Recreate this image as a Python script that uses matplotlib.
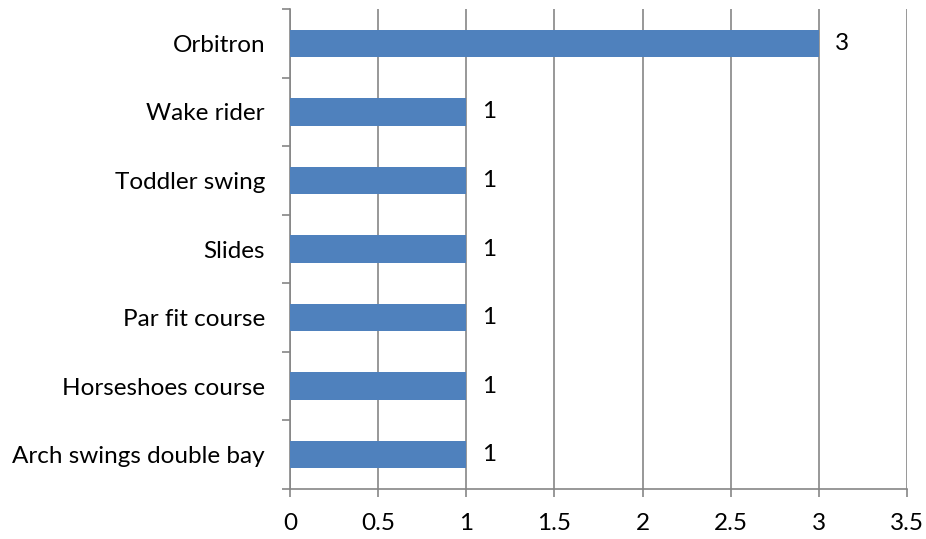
import matplotlib
matplotlib.use('Agg')
import matplotlib.pyplot as plt
from matplotlib.ticker import FixedLocator

categories = ['Arch swings double bay', 'Horseshoes course', 'Par fit course',
              'Slides', 'Toddler swing', 'Wake rider', 'Orbitron']
values = [1, 1, 1, 1, 1, 1, 3]
xticks = [0, 0.5, 1, 1.5, 2, 2.5, 3, 3.5]
xticklabels = ['0', '0.5', '1', '1.5', '2', '2.5', '3', '3.5']

plt.rcParams['font.family'] = ['Lato', 'DejaVu Sans']
plt.rcParams['font.size'] = 17.5

fig = plt.figure(figsize=(9.26, 5.39), dpi=100)
ax = fig.add_axes([290/926, 1-489/539, (907-290)/926, 480/539])

pos = range(len(categories))
ax.barh(pos, values, height=0.4, color='#4F81BD', zorder=3)
for p, v in zip(pos, values):
    ax.text(v + 0.09, p, str(v), va='center', ha='left')

ax.set_xlim(0, 3.5)
ax.set_ylim(-0.5, len(categories) - 0.5)
ax.set_xticks(xticks)
ax.set_xticklabels(xticklabels)

ax.set_yticks(list(pos))
ax.set_yticklabels(categories)
ax.tick_params(axis='y', which='major', length=0, pad=18)
ax.yaxis.set_minor_locator(FixedLocator([i - 0.5 for i in range(len(categories) + 1)]))
ax.tick_params(axis='y', which='minor', length=6, width=1.2, color='#868686')
ax.tick_params(axis='x', which='major', length=6, width=1.2, color='#868686', pad=11)

ax.grid(True, axis='x', color='#868686', lw=1.2, zorder=0)
for s in ['top', 'right']:
    ax.spines[s].set_visible(False)
for s in ['left', 'bottom']:
    ax.spines[s].set_color('#868686')
    ax.spines[s].set_linewidth(1.2)

fig.savefig('out.png', dpi=100)
